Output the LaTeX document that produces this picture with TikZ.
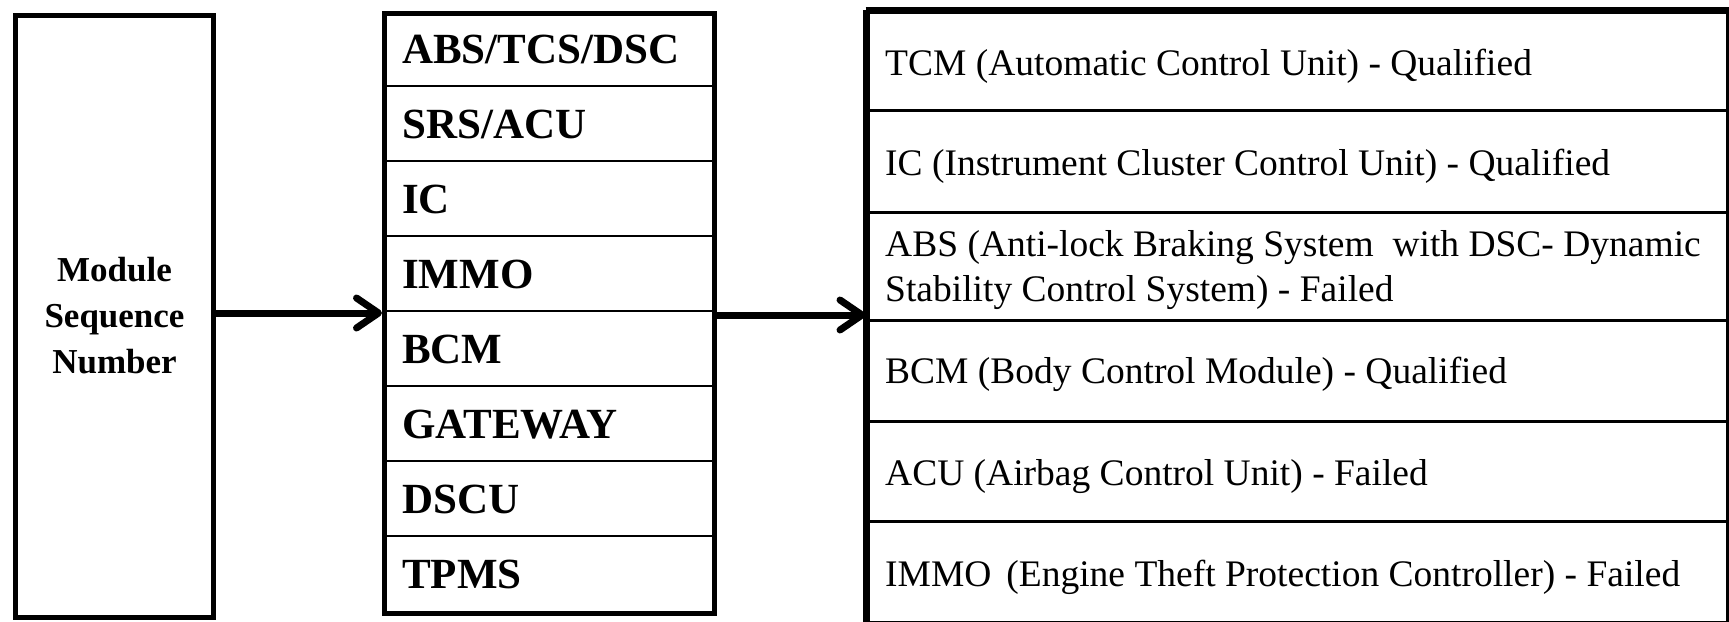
\documentclass[tikz,border=0pt]{standalone}
\usepackage{fontspec}
\setmainfont{Liberation Serif}
\usetikzlibrary{arrows.meta}
\begin{document}
\begin{tikzpicture}[x=1pt,y=-1pt,
  thickbox/.style={draw, line width=5pt, inner sep=0pt, anchor=north west},
  midtext/.style={anchor=base west, inner sep=0pt, font=\fontsize{43}{50}\selectfont\bfseries},
  rtext/.style={anchor=base west, inner sep=0pt, align=left, font=\fontsize{37.5}{45}\selectfont},
  midsep/.style={line width=2.5pt},
  rsep/.style={line width=3pt},
  bigarrow/.style={line width=7pt, -{Straight Barb[length=22pt,width=30pt,round]}},
]
\useasboundingbox (0,0) rectangle (1729,621);
% left box
\node[thickbox, minimum width=198pt, minimum height=602pt, align=center,
      font=\fontsize{35}{46}\selectfont\bfseries] (L) at (13,12.5) {Module\\Sequence\\Number};
% middle box
\node[thickbox, minimum width=330pt, minimum height=600pt] (M) at (382,11) {};
\foreach \i in {1,...,7}{
  \draw[midsep] (M.west |- 0,{11+75*\i}) -- (M.east |- 0,{11+75*\i});
}
\node[midtext] (m1) at (402,63.5) {ABS/TCS/DSC};
\node[midtext] (m2) at (402,138.5) {SRS/ACU};
\node[midtext] (m3) at (402,213.5) {IC};
\node[midtext] (m4) at (402,288.5) {IMMO};
\node[midtext] (m5) at (402,363.5) {BCM};
\node[midtext] (m6) at (402,438.5) {GATEWAY};
\node[midtext] (m7) at (402,513.5) {DSCU};
\node[midtext] (m8) at (402,588.5) {TPMS};
% right box
\node[draw, line width=4pt, inner sep=0pt, anchor=north west, minimum width=860.5pt, minimum height=611pt] (R) at (865.5,10) {};
\draw[line width=6pt] (R.north west) -- (R.north east);
\draw[line width=5pt] (R.north west) -- (R.south west);
\foreach \y in {110,212,320,421,521}{
  \draw[rsep] (R.west |- 0,\y) -- (R.east |- 0,\y);
}
\node[rtext] (r1) at (885,75) {TCM (Automatic Control Unit) - Qualified};
\node[rtext] (r2) at (885,175) {IC (Instrument Cluster Control Unit) - Qualified};
\node[rtext] (r3) at (885,256.7) {ABS (Anti-lock Braking System\ \ with DSC- Dynamic};
\node[rtext] (r3b) at (885,301.7) {Stability Control System) - Failed};
\node[rtext] (r4) at (885,383) {BCM (Body Control Module) - Qualified};
\node[rtext] (r5) at (885,485) {ACU (Airbag Control Unit) - Failed};
\node[rtext] (r6) at (885,586) {IMMO\hspace{0.4em}(Engine Theft Protection Controller) - Failed};
% arrows
\draw[bigarrow] (L.east |- 0,313) -- (M.west |- 0,313);
\draw[bigarrow] (M.east |- 0,315) -- (R.west |- 0,315);
\end{tikzpicture}
\end{document}
